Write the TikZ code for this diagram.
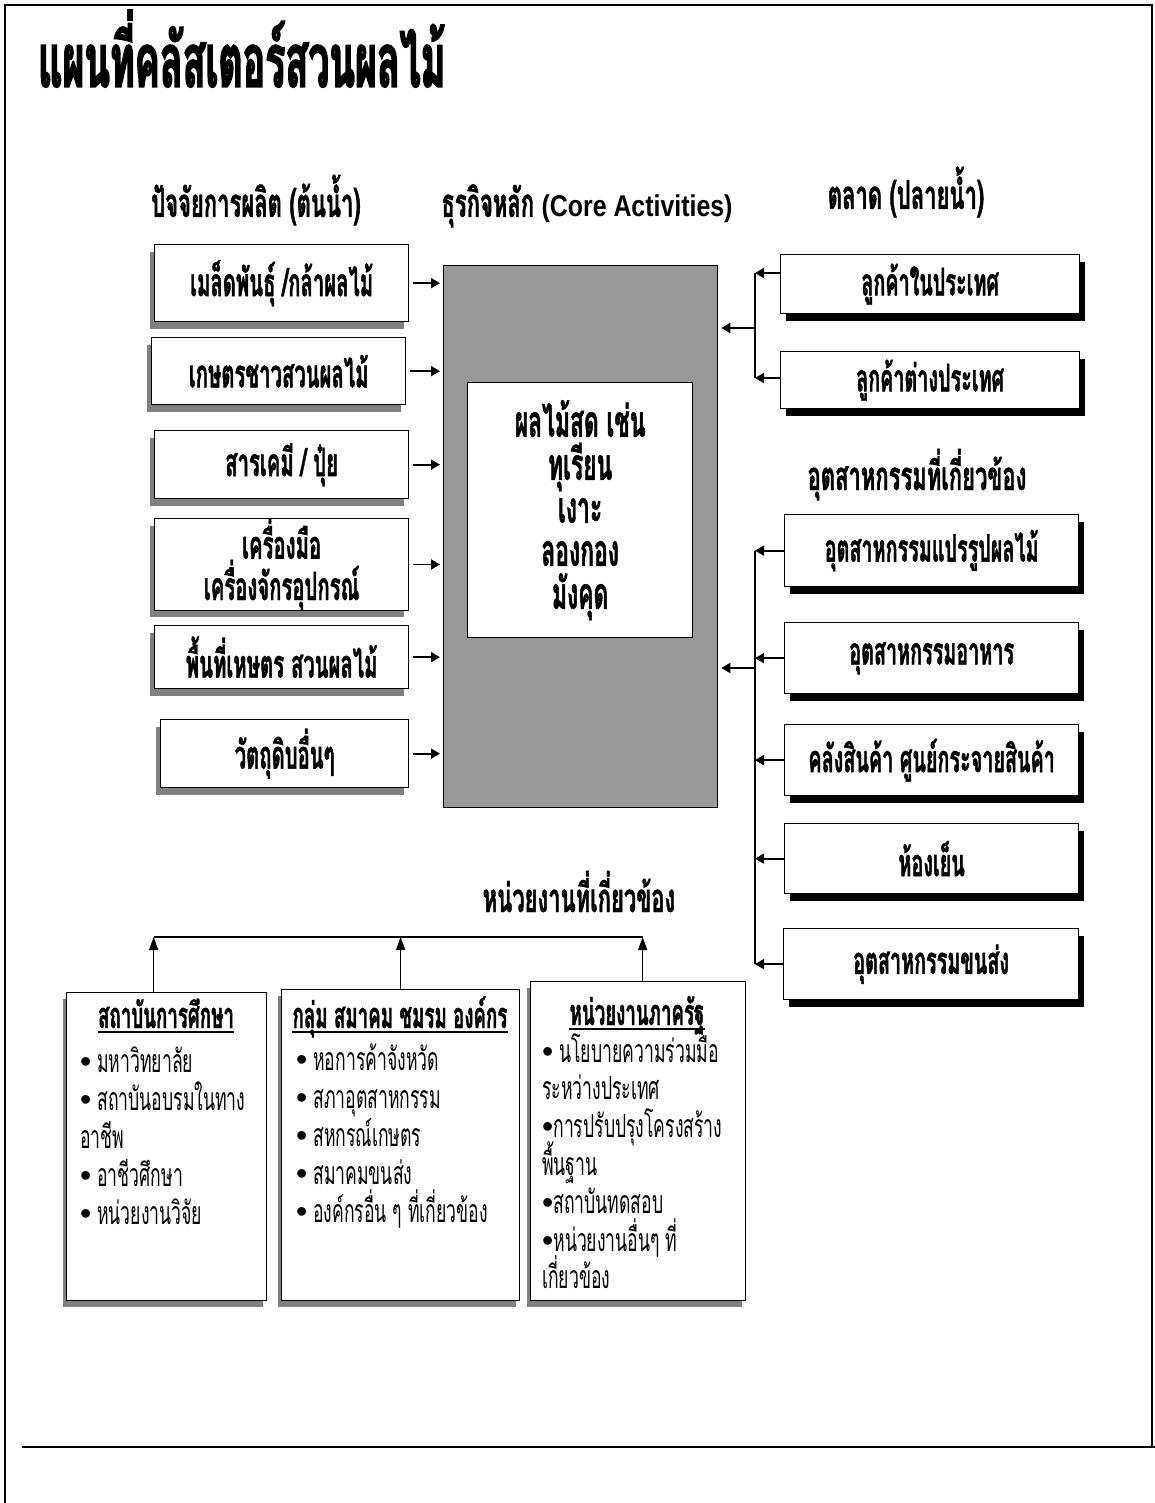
\documentclass[tikz,border=0pt]{standalone}
\usepackage{fontspec}
\usetikzlibrary{arrows.meta,calc,shadows}
\newfontfamily\thaiT[Script=Thai,FakeStretch=0.5,FakeBold=2]{Loma}
\newfontfamily\thaiB[Script=Thai,FakeStretch=0.52,FakeBold=1]{Loma}
\newfontfamily\thaiH[Script=Thai,FakeStretch=0.55,FakeBold=1]{Loma}
\newfontfamily\thaiI[Script=Thai,FakeStretch=0.55]{Loma}
\newfontfamily\lib{Liberation Sans}
\newfontfamily\libn[FakeStretch=0.83]{Liberation Sans}
\newcommand\bul{{\lib •}}
\newcommand\fTitle{\thaiT\bfseries\fontsize{75}{80}\selectfont}
\newcommand\fHead{\thaiH\bfseries\fontsize{40}{44}\selectfont}
\newcommand\fBox{\thaiB\bfseries\fontsize{39}{44}\selectfont}
\newcommand\fInd{\thaiB\bfseries\fontsize{38}{44}\selectfont}
\newcommand\fCore{\thaiB\bfseries\fontsize{44}{43}\selectfont}
\newcommand\fSub{\thaiB\bfseries\fontsize{36}{40}\selectfont}
\newcommand\fItem{\thaiI\fontsize{32}{36}\selectfont}
\begin{document}
\begin{tikzpicture}[x=1pt,y=-1pt,
  gshadow/.style={drop shadow={shadow xshift=-5pt,shadow yshift=-7pt,fill=black!50,opacity=1}},
  kshadow/.style={drop shadow={shadow xshift=5pt,shadow yshift=-7pt,fill=black,opacity=1}},
  bx/.style={draw=black,line width=1.3pt,fill=white,anchor=north west,inner sep=0pt,align=center},
  lbox/.style={bx,gshadow,font=\fBox},
  rbox/.style={bx,kshadow,font=\fInd},
  ubox/.style={bx,drop shadow={shadow xshift=-4pt,shadow yshift=-6pt,fill=black!50,opacity=1}},
  arr/.style={line width=1.8pt,-{Triangle[length=9pt,width=10pt]}},
  uarr/.style={line width=1.3pt,-{Triangle[length=13pt,width=9pt]}},
  bus/.style={line width=1.3pt},
  head/.style={font=\fHead,anchor=base,inner sep=0pt},
  itm/.style={font=\fItem,anchor=base west,inner sep=0pt},
  sub/.style={font=\fSub,anchor=base,inner sep=0pt}
]
\useasboundingbox (0,0) rectangle (1155,1503);
% frame
\draw[line width=2pt] (5,1503) -- (5,5) -- (1152,5) -- (1152,1447);
\draw[line width=2pt] (22,1447) -- (1155,1447);

% title and headings
\node[font=\fTitle,anchor=base west,inner sep=0pt] (title) at (38,87) {แผนที่คลัสเตอร์สวนผลไม้};
\node[head] (h1) at (256,217) {ปัจจัยการผลิต (ต้นน้ำ)};
\node[head] (h2) at (587,217) {ธุรกิจหลัก {\libn\bfseries\fontsize{30}{34}\selectfont (Core Activities)}};
\node[head] (h3) at (906,209) {ตลาด (ปลายน้ำ)};
\node[head] (h4) at (917,490) {อุตสาหกรรมที่เกี่ยวข้อง};
\node[head] (h5) at (579,912) {หน่วยงานที่เกี่ยวข้อง};

% core
\node[draw=black,line width=1.3pt,fill=black!40,anchor=north west,minimum width=274pt,minimum height=542pt] (core) at (443,265) {};
\node[bx,minimum width=225pt,minimum height=255pt,font=\fCore] (inner) at (467,382) {ผลไม้สด เช่น\\ทุเรียน\\เงาะ\\ลองกอง\\มังคุด};

% left boxes
\node[lbox,minimum width=254pt,minimum height=77pt] (b1) at (154,244) {เมล็ดพันธุ์ /กล้าผลไม้};
\node[lbox,minimum width=254pt,minimum height=67pt] (b2) at (151,337) {เกษตรชาวสวนผลไม้};
\node[lbox,minimum width=254pt,minimum height=68pt] (b3) at (154,430) {สารเคมี / ปุ๋ย};
\node[lbox,minimum width=254pt,minimum height=85pt,font=\thaiB\bfseries\fontsize{39}{38}\selectfont] (b4) at (154,518) {เครื่องมือ\\เครื่องจักรอุปกรณ์};
\node[lbox,minimum width=254pt,minimum height=63pt] (b5) at (154,625) {พื้นที่เหษตร สวนผลไม้};
\node[lbox,minimum width=248pt,minimum height=68pt] (b6) at (160,719) {วัตถุดิบอื่นๆ};
\foreach \b in {b1,b2,b3,b4,b5,b6}
  \draw[arr] ([xshift=4pt]\b.east) -- ([xshift=-3pt]core.west |- \b.east);

% markets
\node[rbox,minimum width=299pt,minimum height=59pt] (m1) at (780,254) {ลูกค้าในประเทศ};
\node[rbox,minimum width=299pt,minimum height=57pt] (m2) at (780,351) {ลูกค้าต่างประเทศ};
\coordinate (mb1) at (755,273);
\coordinate (mb2) at (755,378);
\coordinate (mbm) at (755,328);
\draw[bus] (mb1) -- (mb2);
\draw[arr] (m1.west |- mb1) -- (mb1);
\draw[arr] (m2.west |- mb2) -- (mb2);
\draw[arr] (mbm) -- ([xshift=3pt]core.east |- mbm);

% industries
\node[rbox,minimum width=294pt,minimum height=72pt] (i1) at (784,514) {อุตสาหกรรมแปรรูปผลไม้};
\node[rbox,minimum width=294pt,minimum height=71pt] (i2) at (784,622) {อุตสาหกรรมอาหาร};
\node[rbox,minimum width=294pt,minimum height=71pt] (i3) at (784,724) {คลังสินค้า ศูนย์กระจายสินค้า};
\node[rbox,minimum width=294pt,minimum height=70pt] (i4) at (784,823) {ห้องเย็น};
\node[rbox,minimum width=295pt,minimum height=71pt] (i5) at (783,928) {อุตสาหกรรมขนส่ง};
\coordinate (busx) at (755,0);
\coordinate (ibm) at (755,668);
\draw[bus] (busx |- i1.west) -- (busx |- i5.west);
\foreach \b in {i1,i2,i3,i4,i5}
  \draw[arr] (\b.west) -- (busx |- \b.west);
\draw[arr] (ibm) -- ([xshift=3pt]core.east |- ibm);

% bottom agencies
\node[ubox,minimum width=200pt,minimum height=308pt] (bA) at (66,992) {};
\node[ubox,minimum width=238pt,minimum height=311pt] (bB) at (281,989) {};
\node[ubox,minimum width=215pt,minimum height=319pt] (bC) at (530,981) {};
\coordinate (topline) at (0,937);
\coordinate (aA) at ([xshift=-13pt]bA.north);
\coordinate (aB) at (bB.north);
\coordinate (aC) at ([xshift=4.5pt]bC.north);
\draw[bus] (aA |- topline) -- (aC |- topline);
\draw[uarr] (aA) -- (aA |- topline);
\draw[uarr] (aB) -- (aB |- topline);
\draw[uarr] (aC) -- (aC |- topline);

\node[sub] (sA) at (166,1028) {สถาบันการศึกษา};
\node[sub] (sB) at (400,1028) {กลุ่ม สมาคม ชมรม องค์กร};
\node[sub] (sC) at (637,1025) {หน่วยงานภาครัฐ};
\foreach \s in {sA,sB,sC}
  \draw[line width=1.3pt] ([yshift=-4pt]\s.base west) -- ([yshift=-4pt]\s.base east);

\foreach \t [count=\k from 0] in {\bul\ มหาวิทยาลัย,\bul\ สถาบันอบรมในทาง,อาชีพ,\bul\ อาชีวศึกษา,\bul\ หน่วยงานวิจัย}
  \node[itm] (tA\k) at (80,1072+38*\k) {\t};
\foreach \t [count=\k from 0] in {\bul\ หอการค้าจังหวัด,\bul\ สภาอุตสาหกรรม,\bul\ สหกรณ์เกษตร,\bul\ สมาคมขนส่ง,\bul\ องค์กรอื่น ๆ ที่เกี่ยวข้อง}
  \node[itm] (tB\k) at (296,1070+38.2*\k) {\t};
\foreach \t [count=\k from 0] in {\bul\ นโยบายความร่วมมือ,ระหว่างประเทศ,\bul การปรับปรุงโครงสร้าง,พื้นฐาน,\bul สถาบันทดสอบ,\bul หน่วยงานอื่นๆ ที่,เกี่ยวข้อง}
  \node[itm] (tC\k) at (542,1062+37.8*\k) {\t};
\end{tikzpicture}
\end{document}
